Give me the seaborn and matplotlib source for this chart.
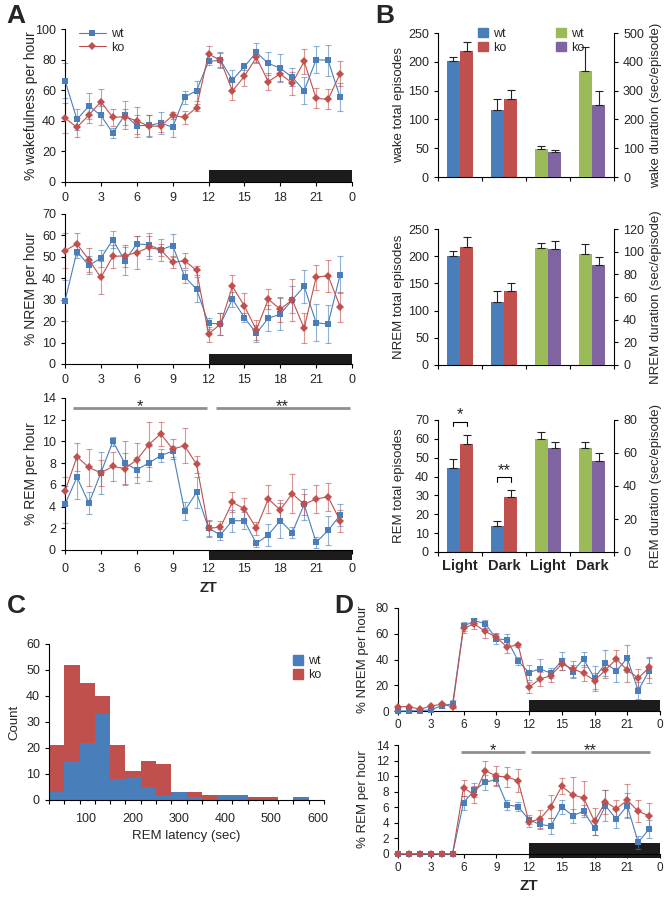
import numpy as np
import pandas as pd
import matplotlib
matplotlib.use("Agg")
import matplotlib.pyplot as plt
import seaborn as sns
from matplotlib.patches import Patch, Rectangle
from matplotlib.transforms import blended_transform_factory

# ---- shared x axis for the hourly plots
hours = list(range(24))
zt_ticks = list(range(0, 25, 3))
zt_labels = ["0", "3", "6", "9", "12", "15", "18", "21", "0"]
dark_phase = (12, 24)

# ---- panel A: % per hour (mean, sem)
wake_wt = [66.3, 40.9, 49.7, 43.5, 32.0, 43.8, 36.8, 37.0, 38.5, 35.9, 55.4, 59.7,
           78.8, 79.6, 66.7, 75.5, 84.7, 77.5, 74.4, 68.5, 59.7, 79.9, 79.6, 55.4]
wake_wt_se = [11.4, 7.1, 8.3, 6.5, 3.0, 9.2, 7.2, 7.0, 7.0, 6.8, 4.3, 6.6,
              2.2, 5.4, 6.3, 2.5, 6.3, 7.5, 9.2, 5.9, 8.8, 8.7, 10.1, 9.1]
wake_ko = [41.8, 35.7, 43.8, 52.5, 42.2, 42.7, 40.0, 36.5, 36.5, 43.5, 42.2, 48.6,
           83.6, 79.6, 59.5, 69.1, 81.4, 65.6, 70.7, 64.6, 78.8, 54.7, 54.0, 70.7]
wake_ko_se = [9.6, 6.0, 5.0, 8.1, 5.5, 5.3, 8.8, 7.3, 4.0, 2.5, 4.2, 2.2,
              5.0, 4.6, 6.1, 6.4, 3.9, 5.4, 4.8, 7.6, 8.1, 6.6, 6.6, 8.1]

nrem_wt = [29.5, 52.5, 46.0, 49.4, 58.0, 48.2, 56.0, 55.7, 53.3, 55.3, 40.8, 34.9,
           19.0, 18.7, 30.2, 21.7, 14.3, 21.4, 23.2, 29.9, 36.2, 19.3, 18.6, 41.6]
nrem_wt_se = [9.5, 3.2, 4.2, 3.9, 3.9, 6.5, 3.6, 5.3, 5.0, 5.3, 3.2, 5.9,
              2.7, 5.0, 3.6, 2.0, 3.9, 6.2, 7.5, 6.3, 7.8, 8.6, 9.0, 8.6]
nrem_ko = [52.9, 56.0, 48.6, 40.4, 50.2, 50.5, 52.0, 54.4, 53.3, 47.4, 48.2, 43.7,
           14.0, 18.6, 36.2, 27.1, 15.9, 30.2, 25.6, 29.9, 16.7, 40.5, 41.2, 26.8]
nrem_ko_se = [8.1, 5.0, 5.5, 7.5, 5.5, 5.2, 7.6, 5.2, 2.8, 2.8, 3.6, 2.1,
              3.5, 5.1, 5.4, 5.9, 4.7, 4.7, 5.9, 9.7, 7.0, 5.8, 7.4, 7.0]

rem_wt = [4.2, 6.7, 4.3, 7.1, 10.0, 8.0, 7.4, 8.0, 8.7, 9.1, 3.6, 5.3,
          2.0, 1.4, 2.7, 2.7, 0.6, 1.4, 2.7, 1.6, 4.2, 0.7, 1.8, 3.2]
rem_wt_se = [1.7, 2.0, 1.0, 1.9, 0.4, 2.0, 1.2, 1.6, 0.6, 0.5, 0.8, 1.4,
             0.7, 0.5, 1.0, 0.8, 0.3, 1.0, 1.6, 0.5, 1.4, 0.5, 1.3, 1.0]
rem_ko = [5.4, 8.6, 7.6, 7.1, 7.7, 7.5, 8.3, 9.7, 10.7, 9.3, 9.6, 7.9,
          2.0, 2.1, 4.4, 3.8, 2.0, 4.7, 3.7, 5.2, 4.2, 4.7, 4.9, 2.7]
rem_ko_se = [1.3, 1.3, 1.7, 1.2, 1.3, 1.4, 1.6, 2.1, 1.1, 0.9, 1.6, 0.8,
             0.8, 0.6, 0.9, 1.0, 0.6, 1.3, 0.9, 1.8, 1.0, 1.3, 1.3, 1.0]
rem_sig_A = [(0.7, 11.9, "*"), (12.6, 23.8, "**")]

# ---- panel B: episodes (left axis) and durations (right axis), Light / Dark
phase_labels = ["Light", "Dark", "Light", "Dark"]
b_wake = dict(ep_wt=[201, 116], ep_wt_se=[8, 20], ep_ko=[218, 136], ep_ko_se=[17, 15],
              dur_wt=[97, 369], dur_wt_se=[9, 82], dur_ko=[86, 249], dur_ko_se=[9, 48])
b_nrem = dict(ep_wt=[201, 116], ep_wt_se=[8, 20], ep_ko=[217, 136], ep_ko_se=[18, 15],
              dur_wt=[103, 98], dur_wt_se=[5, 9], dur_ko=[102, 88], dur_ko_se=[7, 7])
b_rem = dict(ep_wt=[44.4, 13.9], ep_wt_se=[5.0, 2.3], ep_ko=[57.4, 29.3], ep_ko_se=[4.9, 3.6],
             dur_wt=[68.6, 62.9], dur_wt_se=[3.9, 3.5], dur_ko=[62.9, 55.2], dur_ko_se=[3.7, 4.5])

# ---- panel C: REM latency histogram
bin_edges = list(range(20, 615, 33))
latency_wt = [3, 15, 22, 33, 8, 9, 5, 2, 3, 1, 0, 2, 2, 0, 0, 0, 1, 0]
latency_ko = [21, 52, 45, 40, 21, 11, 15, 14, 0, 3, 2, 0, 0, 1, 1, 0, 0, 0]

# ---- panel D
d_nrem_wt = [0.0, 0.0, 0.3, 0.8, 4.2, 5.5, 65.7, 70.1, 67.8, 56.1, 55.3, 39.0,
             29.9, 32.7, 29.4, 39.0, 30.6, 40.3, 25.5, 37.1, 31.2, 41.0, 15.8, 31.4]
d_nrem_wt_se = [0.5, 0.5, 0.5, 0.8, 1.5, 3.1, 3.3, 1.9, 3.1, 3.9, 4.7, 3.3,
                5.9, 7.6, 3.8, 7.2, 5.2, 5.9, 9.6, 9.9, 8.5, 10.4, 6.5, 9.6]
d_nrem_ko = [3.4, 3.4, 1.3, 3.9, 5.2, 3.4, 64.4, 67.5, 61.8, 57.4, 49.6, 51.4,
             18.4, 24.9, 27.3, 36.6, 32.7, 29.4, 23.6, 31.9, 40.3, 31.9, 25.5, 33.8]
d_nrem_ko_se = [0.8, 0.8, 0.8, 1.0, 1.0, 1.0, 3.9, 3.9, 5.2, 3.1, 4.4, 1.8,
                4.5, 5.7, 4.6, 4.4, 6.5, 6.4, 6.3, 6.5, 7.2, 9.1, 7.2, 8.0]
d_rem_wt = [0, 0, 0, 0, 0, 0, 6.6, 8.2, 9.2, 9.6, 6.3, 6.1,
            4.4, 3.8, 3.6, 6.1, 4.9, 5.5, 3.3, 6.2, 4.5, 6.2, 1.5, 3.2]
d_rem_wt_se = [0, 0, 0, 0, 0, 0, 0.9, 0.9, 1.0, 0.8, 0.7, 0.6,
               0.6, 0.6, 1.0, 0.9, 0.9, 0.8, 0.9, 2.0, 1.2, 1.6, 0.8, 1.2]
d_rem_ko = [0, 0, 0, 0, 0, 0, 8.5, 7.6, 10.7, 10.0, 9.9, 9.4,
            4.1, 4.5, 6.1, 8.7, 7.6, 7.2, 4.2, 6.7, 5.8, 6.9, 5.5, 4.9]
d_rem_ko_se = [0, 0, 0, 0, 0, 0, 1.0, 1.1, 1.2, 1.3, 1.3, 1.5,
               0.6, 1.2, 1.5, 1.0, 2.3, 2.2, 1.7, 1.5, 1.2, 2.1, 1.4, 1.7]
rem_sig_D = [(5.8, 11.6, "*"), (12.2, 23.1, "**")]

BLUE, RED, GREEN, PURPLE = "#4a7ebb", "#c0504d", "#9bbb59", "#8064a2"
GRAY = "#8f8f8f"

sns.set_style("ticks")
plt.rcParams["font.family"] = ["Liberation Sans", "DejaVu Sans"]
plt.rcParams["font.size"] = 9
plt.rcParams["axes.linewidth"] = 0.8

W, H = 672, 899
fig = plt.figure(figsize=(W / 100, H / 100), dpi=100)


def axes_px(l, t, r, b):
    return fig.add_axes([l / W, 1 - b / H, (r - l) / W, (b - t) / H])


def tidy(ax, size=9):
    for s in ["top", "right"]:
        ax.spines[s].set_visible(False)
    for s in ["left", "bottom"]:
        ax.spines[s].set_color("black")
    ax.tick_params(direction="out", length=3, width=0.8, labelsize=size, color="black")


def dark_bar(ax, y0, y1):
    tr = blended_transform_factory(ax.transData, ax.transAxes)
    ax.add_patch(Rectangle((dark_phase[0], y0), dark_phase[1] - dark_phase[0], y1 - y0,
                           transform=tr, color="#1e1b1c", clip_on=False, zorder=1, lw=0))


def hourly(ax, wt, wt_se, ko, ko_se, ymax, ystep, bar_y, label, legend=False, size=9, xpad=4.5):
    df = pd.DataFrame({"ZT": hours + hours, "pct": wt + ko,
                       "genotype": ["wt"] * 24 + ["ko"] * 24})
    for vals, se, c in [(wt, wt_se, BLUE), (ko, ko_se, RED)]:
        ax.errorbar(hours, vals, yerr=se, fmt="none", ecolor=c, elinewidth=0.8,
                    capsize=2, capthick=0.8, alpha=0.6, zorder=2, clip_on=False)
    sns.lineplot(data=df, x="ZT", y="pct", hue="genotype", style="genotype",
                 palette={"wt": BLUE, "ko": RED}, markers={"wt": "s", "ko": "D"},
                 dashes=False, markersize=4.3, markeredgewidth=0, linewidth=0.8,
                 ax=ax, legend=legend, zorder=3, clip_on=False)
    ax.set_xlim(0, 24)
    ax.set_ylim(0, ymax)
    ax.set_yticks(np.arange(0, ymax + 0.01, ystep))
    ax.set_xticks(zt_ticks)
    ax.set_xticklabels(zt_labels)
    ax.set_xlabel("")
    ax.set_ylabel(label, fontsize=size + 1)
    tidy(ax, size)
    ax.tick_params(axis="x", pad=xpad)
    dark_bar(ax, *bar_y)


def star(ax, x, y, s, dy=0):
    ax.annotate(s, (x, y), xytext=(0, dy), textcoords="offset points",
                ha="center", va="center", fontsize=12, annotation_clip=False)


def sig_bars(ax, spans, y):
    for x0, x1, s in spans:
        ax.plot([x0, x1], [y, y], color=GRAY, lw=2, solid_capstyle="butt", clip_on=False)
        star(ax, (x0 + x1) / 2, y, s, dy=1)


# ---------------- panel A
axA1 = axes_px(65, 29, 352, 182)
hourly(axA1, wake_wt, wake_wt_se, wake_ko, wake_ko_se, 100, 20, (0, 0.078),
       "% wakefulness per hour", legend=True)
axA1.legend(loc="upper left", bbox_to_anchor=(0.03, 1.04), frameon=False, fontsize=9,
            handlelength=2.2, handletextpad=0.4, labelspacing=0.15, borderaxespad=0)

axA2 = axes_px(65, 214, 352, 364)
hourly(axA2, nrem_wt, nrem_wt_se, nrem_ko, nrem_ko_se, 70, 10, (0, 0.067), "% NREM per hour")

axA3 = axes_px(65, 398, 352, 550)
hourly(axA3, rem_wt, rem_wt_se, rem_ko, rem_ko_se, 14, 2, (-0.066, 0), "% REM per hour", xpad=6)
sig_bars(axA3, rem_sig_A, 13.1)
axA3.set_xlabel("ZT", fontweight="bold", fontsize=10.5, labelpad=5)

for ax in (axA1, axA2, axA3):
    ax.yaxis.set_label_coords(-0.094, 0.5)

# ---------------- panel B
def episode_panel(ax, d, left_label, right_label, lmax, lstep, rmax, rstep):
    ax2 = ax.twinx()
    w = 0.3
    ep_pos = np.array([0, 1])
    dur_pos = np.array([2, 3])
    for a, pos, vals, se, c, off in [
        (ax, ep_pos, d["ep_wt"], d["ep_wt_se"], BLUE, -w / 2),
        (ax, ep_pos, d["ep_ko"], d["ep_ko_se"], RED, w / 2),
        (ax2, dur_pos, d["dur_wt"], d["dur_wt_se"], GREEN, -w / 2),
        (ax2, dur_pos, d["dur_ko"], d["dur_ko_se"], PURPLE, w / 2),
    ]:
        a.bar(pos + off, vals, w, color=c, lw=0, zorder=2)
        a.errorbar(pos + off, vals, yerr=[np.zeros(len(vals)), se], fmt="none",
                   ecolor="#222222", elinewidth=0.8, capsize=3, capthick=0.8, zorder=3)
    ax.set_xlim(-0.5, 3.5)
    ax.set_ylim(0, lmax)
    ax.set_yticks(np.arange(0, lmax + 0.01, lstep))
    ax2.set_ylim(0, rmax)
    ax2.set_yticks(np.arange(0, rmax + 0.01, rstep))
    ax.set_xticks([-0.5, 0.5, 1.5, 2.5, 3.5])
    ax.set_xticklabels([])
    tidy(ax)
    for s in ["top", "left", "bottom"]:
        ax2.spines[s].set_visible(False)
    ax2.spines["right"].set_color("black")
    ax2.tick_params(direction="out", length=3, width=0.8, labelsize=9, color="black")
    ax.set_ylabel(left_label, fontsize=9.5)
    ax2.set_ylabel(right_label, fontsize=9.5)
    ax.yaxis.set_label_coords(-0.19, 0.5)
    ax2.yaxis.set_label_coords(1.205, 0.5)
    return ax2


axB1 = axes_px(438, 33, 614, 177)
episode_panel(axB1, b_wake, "wake total episodes", "wake duration (sec/episode)", 250, 50, 500, 100)
leg1 = axB1.legend(handles=[Patch(color=BLUE, label="wt"), Patch(color=RED, label="ko")],
                   loc="upper left", bbox_to_anchor=(0.2, 1.07), frameon=False, fontsize=9,
                   handlelength=0.8, handleheight=0.8, handletextpad=0.4, labelspacing=0.15,
                   borderaxespad=0)
axB1.add_artist(leg1)
axB1.legend(handles=[Patch(color=GREEN, label="wt"), Patch(color=PURPLE, label="ko")],
            loc="upper left", bbox_to_anchor=(0.64, 1.07), frameon=False, fontsize=9,
            handlelength=0.8, handleheight=0.8, handletextpad=0.4, labelspacing=0.15,
            borderaxespad=0)

axB2 = axes_px(438, 229, 614, 365)
episode_panel(axB2, b_nrem, "NREM total episodes", "NREM duration (sec/episode)", 250, 50, 120, 20)

axB3 = axes_px(438, 420, 614, 552)
episode_panel(axB3, b_rem, "REM total episodes", "REM duration (sec/episode)", 70, 10, 80, 20)
axB3.set_xticks([0, 1, 2, 3], minor=True)
axB3.set_xticklabels(phase_labels, minor=True, fontweight="bold", fontsize=10.5)
axB3.tick_params(axis="x", which="minor", length=0, pad=5)
for xc, ytop, ydrop, s in [(0, 69, 66.8, "*"), (1, 39.6, 37.2, "**")]:
    axB3.plot([xc - 0.15, xc - 0.15, xc + 0.15, xc + 0.15], [ydrop, ytop, ytop, ydrop],
              color="black", lw=0.8, zorder=4)
    star(axB3, xc, ytop, s, dy=5)

# ---------------- panel C
axC = axes_px(49, 644, 324, 800)
centers = [(a + b) / 2 for a, b in zip(bin_edges[:-1], bin_edges[1:])]
sns.histplot(x=centers, weights=latency_ko, bins=bin_edges, color=RED, alpha=1,
             linewidth=0, ax=axC)
sns.histplot(x=centers, weights=latency_wt, bins=bin_edges, color=BLUE, alpha=1,
             linewidth=0, ax=axC)
axC.set_xlim(bin_edges[0], bin_edges[-1])
axC.set_ylim(0, 60)
axC.set_yticks(range(0, 61, 10))
tidy(axC)
axC.set_xticks(range(100, 601, 100))
axC.set_xticks(bin_edges, minor=True)
axC.tick_params(axis="x", which="major", length=0, pad=9)
axC.tick_params(axis="x", which="minor", length=3, width=0.8, direction="out", color="black")
axC.set_xlabel("REM latency (sec)", fontsize=9.5)
axC.set_ylabel("Count", fontsize=9.5)
axC.yaxis.set_label_coords(-0.105, 0.5)
axC.legend(handles=[Patch(color=BLUE, label="wt"), Patch(color=RED, label="ko")],
           loc="upper left", bbox_to_anchor=(0.87, 0.96), frameon=False, fontsize=9,
           handlelength=0.8, handleheight=0.8, handletextpad=0.4, labelspacing=0.15,
           borderaxespad=0)

# ---------------- panel D
axD1 = axes_px(398, 608, 660, 711)
hourly(axD1, d_nrem_wt, d_nrem_wt_se, d_nrem_ko, d_nrem_ko_se, 80, 20, (0, 0.107),
       "% NREM per hour", size=8.5, xpad=3)
axD2 = axes_px(398, 745, 660, 854)
hourly(axD2, d_rem_wt, d_rem_wt_se, d_rem_ko, d_rem_ko_se, 14, 2, (-0.037, 0.10),
       "% REM per hour", size=8.5, xpad=3)
sig_bars(axD2, rem_sig_D, 13.1)
axD2.set_xlabel("ZT", fontweight="bold", fontsize=11, labelpad=3)
for ax in (axD1, axD2):
    ax.yaxis.set_label_coords(-0.11, 0.5)

# ---------------- panel letters
for x, y, s in [(6, 16, "A"), (375, 16, "B"), (7, 606, "C"), (334, 606, "D")]:
    fig.text(x / W, 1 - y / H, s, fontsize=19, fontweight="bold", ha="left", va="center")

fig.savefig("out.png", dpi=100)
